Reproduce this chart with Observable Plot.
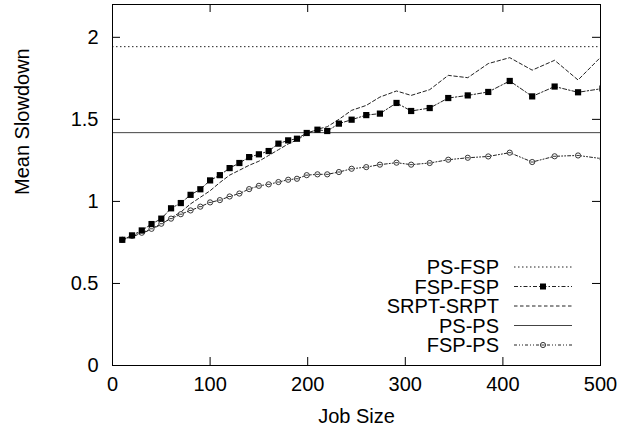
<!DOCTYPE html>
<html><head><meta charset="utf-8">
<script src="https://cdn.jsdelivr.net/npm/d3@7"></script>
<script src="https://cdn.jsdelivr.net/npm/@observablehq/plot@0.6"></script>
<style>
html,body{margin:0;padding:0;background:#fff}
#chart svg{font-family:"Liberation Sans",Arial,Helvetica,sans-serif}
</style>
</head><body><div id="chart"></div>
<script>
// ---- data ----
const jobSize = [10,20,30,40,50,60,70,80,90,100,110,120,130,140,150,160,170,180,189,199,210,220,232,245,260,274,291,306,325,344,364,385,407,430,453,477,502];
const fspFsp  = [0.766,0.793,0.823,0.862,0.895,0.958,0.990,1.040,1.074,1.128,1.160,1.203,1.234,1.270,1.287,1.307,1.352,1.372,1.382,1.417,1.437,1.429,1.474,1.498,1.526,1.535,1.600,1.551,1.569,1.630,1.646,1.667,1.734,1.640,1.700,1.665,1.688];
const srptSrpt= [0.766,0.785,0.805,0.830,0.860,0.900,0.935,0.985,1.025,1.065,1.115,1.160,1.190,1.220,1.245,1.280,1.315,1.350,1.375,1.410,1.440,1.455,1.500,1.555,1.585,1.636,1.673,1.646,1.681,1.768,1.754,1.840,1.876,1.800,1.860,1.740,1.890];
const fspPs   = [0.766,0.790,0.809,0.833,0.864,0.895,0.922,0.945,0.968,0.994,1.008,1.030,1.048,1.075,1.095,1.104,1.118,1.132,1.138,1.160,1.165,1.165,1.179,1.199,1.209,1.224,1.236,1.224,1.234,1.254,1.266,1.274,1.297,1.240,1.275,1.280,1.260];
const psFsp = 1.943;
const psPs  = 1.419;
const xTicks = [0,100,200,300,400,500];
const yTicks = [0,0.5,1,1.5,2];
const seriesNames = ["PS-FSP","FSP-FSP","SRPT-SRPT","PS-PS","FSP-PS"];
const xTitle = "Job Size";
const yTitle = "Mean Slowdown";

// ---- styles ----
const W = 636, H = 433, mL = 112, mR = 36, mT = 4, mB = 68;
const FONT = 20;
const INK = "#222";
const styles = {
  "PS-FSP":    {dash: "1.5,2.5", marker: null},
  "FSP-FSP":   {dash: "4,2,1.5,2", marker: "square"},
  "SRPT-SRPT": {dash: "3.5,2.5", marker: null},
  "PS-PS":     {dash: null, marker: null},
  "FSP-PS":    {dash: "3,2,1,2,1,2", marker: "circlebar"}
};
const circleBar = {
  draw(ctx, size) {
    const r = Math.sqrt(size / Math.PI);
    ctx.moveTo(r, 0);
    ctx.arc(0, 0, r, 0, 2 * Math.PI);
    ctx.moveTo(-r * 0.65, 0);
    ctx.lineTo(r * 0.65, 0);
  }
};

const rows = (ys) => jobSize.map((x, i) => ({x, y: ys[i]}));
const dFF = rows(fspFsp), dSS = rows(srptSrpt), dFP = rows(fspPs);

const frameW = W - mL - mR, frameH = H - mT - mB, tick = 8;

function legend(index, scales, values, dims) {
  const g = d3.create("svg:g").attr("font-size", FONT).attr("fill", "#000");
  const right = dims.width - dims.marginRight;
  const bottom = dims.height - dims.marginBottom;
  seriesNames.forEach((name, i) => {
    const y = bottom - 98 + i * 19.5;
    const st = styles[name];
    g.append("text").attr("x", right - 101).attr("y", y).attr("dy", "0.36em")
      .attr("text-anchor", "end").text(name);
    const x1 = right - 86, x2 = right - 28;
    g.append("line").attr("x1", x1).attr("x2", x2).attr("y1", y).attr("y2", y)
      .attr("stroke", st.marker === null && st.dash === null ? "#444" : INK)
      .attr("stroke-width", 1).attr("stroke-dasharray", st.dash);
    const cx = (x1 + x2) / 2;
    if (st.marker === "square") {
      g.append("rect").attr("x", cx - 3).attr("y", y - 3).attr("width", 6).attr("height", 6).attr("fill", "#000");
    } else if (st.marker === "circlebar") {
      g.append("path").attr("transform", `translate(${cx},${y})`)
        .attr("d", d3.symbol(circleBar, Math.PI * 2.6 * 2.6)())
        .attr("fill", "#fff").attr("stroke", INK).attr("stroke-width", 0.9);
    }
  });
  return g.node();
}

const chart = Plot.plot({
  width: W, height: H,
  marginLeft: mL, marginRight: mR, marginTop: mT, marginBottom: mB,
  style: {fontFamily: '"Liberation Sans",Arial,Helvetica,sans-serif', fontSize: FONT + "px", background: "#fff", color: "#000", overflow: "visible"},
  x: {domain: [0, 500], axis: null},
  y: {domain: [0, 2.2], axis: null},
  marks: [
    // reference lines
    Plot.ruleY([psFsp], {stroke: INK, strokeWidth: 1, strokeDasharray: styles["PS-FSP"].dash}),
    Plot.ruleY([psPs], {stroke: "#444", strokeWidth: 1}),
    // series
    Plot.line(dSS, {x: "x", y: "y", stroke: INK, strokeWidth: 1, strokeDasharray: styles["SRPT-SRPT"].dash, clip: true}),
    Plot.line(dFF, {x: "x", y: "y", stroke: INK, strokeWidth: 1, strokeDasharray: styles["FSP-FSP"].dash, clip: true}),
    Plot.line(dFP, {x: "x", y: "y", stroke: INK, strokeWidth: 1, strokeDasharray: styles["FSP-PS"].dash, clip: true}),
    Plot.dot(dFP, {x: "x", y: "y", symbol: circleBar, r: 2.6, fill: "#fff", stroke: INK, strokeWidth: 0.9, clip: true}),
    Plot.dot(dFF, {x: "x", y: "y", symbol: "square", r: 3.5, fill: "#000", stroke: "none", clip: true}),
    // ticks (inward, mirrored)
    Plot.tickX(xTicks, {x: d => d, insetTop: frameH - tick, stroke: "#000"}),
    Plot.tickX(xTicks, {x: d => d, insetBottom: frameH - tick, stroke: "#000"}),
    Plot.tickY(yTicks, {y: d => d, insetRight: frameW - tick, stroke: "#000"}),
    Plot.tickY(yTicks, {y: d => d, insetLeft: frameW - tick, stroke: "#000"}),
    Plot.frame({stroke: "#000", strokeWidth: 1}),
    // tick labels
    Plot.text(xTicks, {x: d => d, text: d => String(d), frameAnchor: "bottom", dy: 25, fill: "#000"}),
    Plot.text(yTicks, {y: d => d, text: d => String(d), frameAnchor: "left", dx: -14, textAnchor: "end", fill: "#000"}),
    // axis titles
    Plot.text([xTitle], {text: d => d, frameAnchor: "bottom", dy: 57, fill: "#000"}),
    Plot.text([yTitle], {text: d => d, frameAnchor: "left", dx: -90, dy: 10, rotate: -90, fill: "#000"}),
    legend
  ]
});
document.getElementById("chart").append(chart);
</script>
</body></html>
